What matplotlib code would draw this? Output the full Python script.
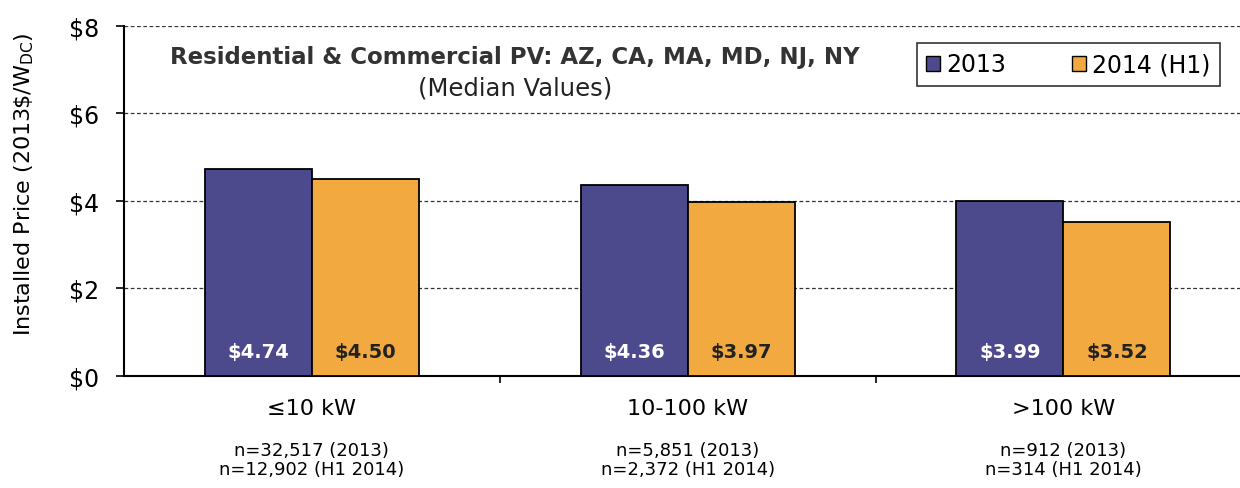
import numpy as np
import matplotlib.pyplot as plt
from matplotlib.patches import Patch

# данные
categories = ['≤10 kW', '10-100 kW', '>100 kW']
sample_sizes = ['n=32,517 (2013)\nn=12,902 (H1 2014)',
                'n=5,851 (2013)\nn=2,372 (H1 2014)',
                'n=912 (2013)\nn=314 (H1 2014)']
price_2013 = [4.74, 4.36, 3.99]
price_2014 = [4.50, 3.97, 3.52]
series_names = ['2013', '2014 (H1)']
yticks = [0, 2, 4, 6, 8]

blue = '#4c4a8c'
orange = '#f2a93f'

plt.rcParams['font.family'] = ['DejaVu Sans']

fig = plt.figure(figsize=(12.4, 4.89), dpi=100)
ax = fig.add_axes([0.1, 0.229, 0.9, 0.716])

x = np.arange(len(categories))
w = 0.285
b1 = ax.bar(x - w / 2, price_2013, w, color=blue, edgecolor='black', linewidth=1.3, zorder=3)
b2 = ax.bar(x + w / 2, price_2014, w, color=orange, edgecolor='black', linewidth=1.3, zorder=3)

for rect, v in zip(b1, price_2013):
    ax.text(rect.get_x() + rect.get_width() / 2, 0.57, f'${v:.2f}', ha='center', va='center',
            color='white', fontsize=14, fontweight='bold', zorder=4)
for rect, v in zip(b2, price_2014):
    ax.text(rect.get_x() + rect.get_width() / 2, 0.57, f'${v:.2f}', ha='center', va='center',
            color='#222222', fontsize=14, fontweight='bold', zorder=4)

ax.set_xlim(-0.5, 2.47)
ax.set_ylim(0, 8)
ax.set_yticks(yticks)
ax.set_yticklabels([f'${t}' for t in yticks], fontsize=17)
ax.set_xticks(x)
ax.set_xticklabels(categories, fontsize=16)
ax.tick_params(axis='x', length=0, pad=16)
ax.set_xticks([0.5, 1.5], minor=True)
ax.tick_params(axis='x', which='minor', length=5, width=1.2)
ax.tick_params(axis='y', length=6, width=1.2, pad=12)

ax.grid(axis='y', linestyle=(0, (3, 2)), color='#333333', linewidth=0.9, zorder=0)
for s in ['top', 'right']:
    ax.spines[s].set_visible(False)
ax.spines['left'].set_linewidth(1.5)
ax.spines['bottom'].set_linewidth(1.5)

ax.set_ylabel('Installed Price (2013\\$/W$_{\\mathregular{DC}}$)', fontsize=16)
ax.yaxis.set_label_coords(-0.079, 0.55)

for xi, s in zip(x, sample_sizes):
    ax.text(xi, -0.185, s, transform=ax.get_xaxis_transform(), ha='center', va='top',
            fontsize=13, linespacing=1.1)

ax.text(0.54, 7.31, 'Residential & Commercial PV: AZ, CA, MA, MD, NJ, NY',
        ha='center', va='center', fontsize=16.5, fontweight='bold', color='#333333')
ax.text(0.54, 6.6, '(Median Values)', ha='center', va='center', fontsize=17.5, color='#222222')

handles = [Patch(facecolor=c, edgecolor='black', linewidth=1) for c in [blue, orange]]
leg = ax.legend(handles, series_names, ncol=2, loc='upper right', bbox_to_anchor=(0.982, 0.951),
                fontsize=17, frameon=True, fancybox=False, edgecolor='black',
                handlelength=0.6, handleheight=0.6, handletextpad=0.25, columnspacing=2.8,
                borderpad=0.4, borderaxespad=0)
leg.get_frame().set_linewidth(1.2)

fig.savefig('out.png', dpi=100)
